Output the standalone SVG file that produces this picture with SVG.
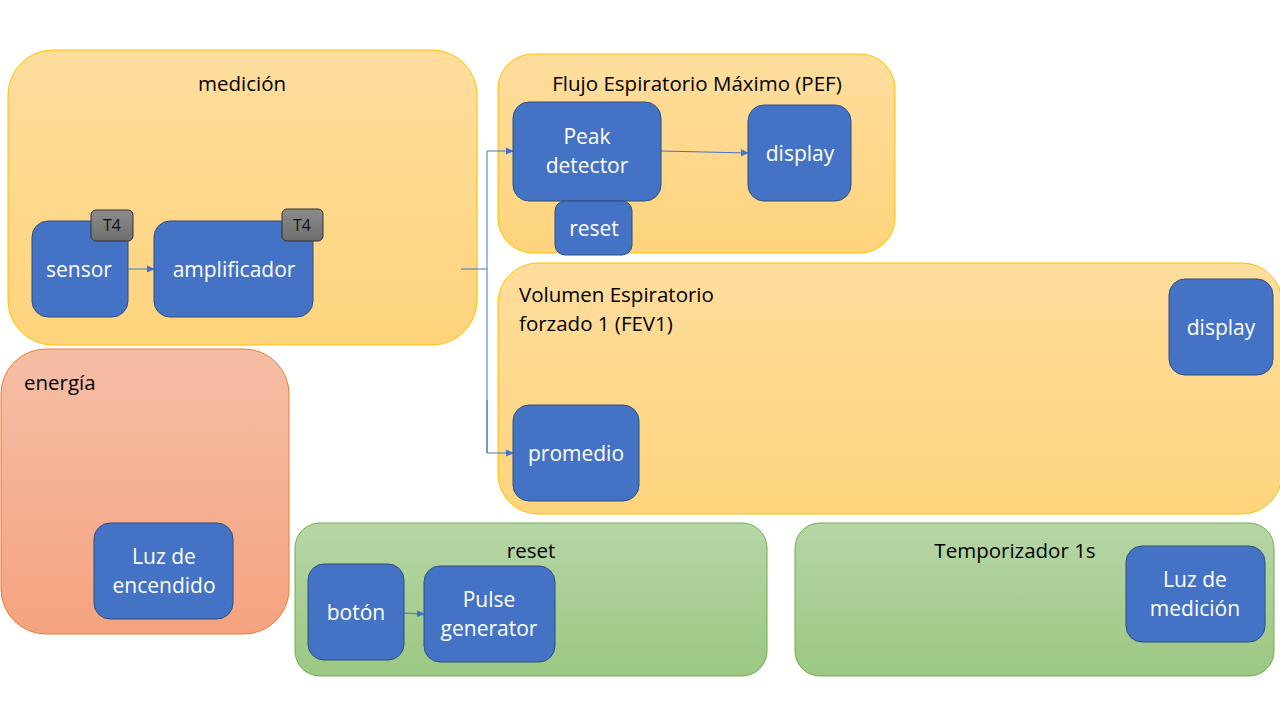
<svg xmlns="http://www.w3.org/2000/svg" width="1280" height="720" viewBox="0 0 1280 720">
<defs>
<linearGradient id="gOr" x1="0" y1="0" x2="0" y2="1"><stop offset="0" stop-color="#FEDD9D"/><stop offset="1" stop-color="#FED47C"/></linearGradient>
<linearGradient id="gRe" x1="0" y1="0" x2="0" y2="1"><stop offset="0" stop-color="#F6BEA6"/><stop offset="1" stop-color="#F5A37F"/></linearGradient>
<linearGradient id="gGr" x1="0" y1="0" x2="0" y2="1"><stop offset="0" stop-color="#B6D6A7"/><stop offset="1" stop-color="#9CC783"/></linearGradient>
<linearGradient id="gGy" x1="0" y1="0" x2="0" y2="1"><stop offset="0" stop-color="#8C8C8C"/><stop offset="1" stop-color="#6E6E6E"/></linearGradient>
<marker id="arr" markerWidth="8" markerHeight="8" refX="7" refY="4" orient="auto" markerUnits="userSpaceOnUse"><path d="M0,0.5 L8,4 L0,7.5 z" fill="#4472C4"/></marker>
<style>
.or{fill:url(#gOr);stroke:#FFC000;stroke-width:1}
.re{fill:url(#gRe);stroke:#ED7D31;stroke-width:1}
.gr{fill:url(#gGr);stroke:#70AD47;stroke-width:1}
.nd{fill:#4472C4;stroke:#2F4F7F;stroke-width:1}
.bd{fill:url(#gGy);stroke:#333;stroke-width:1}
.tt{font-family:"Open Sans","Liberation Sans",sans-serif;font-size:20.5px;fill:#000}
.nt{font-family:"Open Sans","Liberation Sans",sans-serif;font-size:21px;fill:#fff;text-anchor:middle}
.bt{font-family:"Open Sans","Liberation Sans",sans-serif;font-size:16px;fill:#111;text-anchor:middle}
.cn{stroke:#4472C4;stroke-width:1;fill:none}
</style>
</defs>
<rect width="1280" height="720" fill="#fff"/>

<g id="medicion"><rect class="or" x="8" y="50" width="469" height="295" rx="45"/><text class="tt" x="242" y="91" text-anchor="middle">medición</text></g>
<g id="pef"><rect class="or" x="498" y="54" width="397" height="199" rx="35"/><text class="tt" x="697" y="91" text-anchor="middle">Flujo Espiratorio Máximo (PEF)</text></g>
<g id="fev1"><rect class="or" x="498" y="263" width="784" height="251" rx="40"/><text class="tt" x="519" y="302">Volumen Espiratorio</text><text class="tt" x="519" y="331">forzado 1 (FEV1)</text></g>
<g id="energia"><rect class="re" x="1" y="349" width="288" height="285" rx="45"/><text class="tt" x="24" y="390">energía</text></g>
<g id="resetgrp"><rect class="gr" x="295" y="523" width="472" height="153" rx="25"/><text class="tt" x="531" y="558" text-anchor="middle">reset</text></g>
<g id="temporizador"><rect class="gr" x="795" y="523" width="479" height="153" rx="25"/><text class="tt" x="1015" y="558" text-anchor="middle">Temporizador 1s</text></g>

<g id="connectors">
<line class="cn" x1="128" y1="269" x2="154" y2="269" marker-end="url(#arr)"/>
<polyline class="cn" points="461,269 487,269"/>
<polyline class="cn" points="487,453 487,151 513,151" marker-end="url(#arr)"/>
<polyline class="cn" points="487,400 487,453 513,453" marker-end="url(#arr)"/>
<line class="cn" x1="661" y1="151" x2="748" y2="153" marker-end="url(#arr)"/>
<line class="cn" x1="404" y1="613" x2="424" y2="614" marker-end="url(#arr)"/>
</g>

<g id="sensor"><rect class="nd" x="32" y="221" width="96" height="96" rx="16"/><text class="nt" x="79" y="277">sensor</text></g>
<g id="t4a"><rect class="bd" x="91" y="210" width="42" height="31" rx="5"/><text class="bt" x="112" y="231">T4</text></g>
<g id="amplificador"><rect class="nd" x="154" y="221" width="159" height="96" rx="16"/><text class="nt" x="234" y="277">amplificador</text></g>
<g id="t4b"><rect class="bd" x="282" y="209" width="41" height="32" rx="5"/><text class="bt" x="302" y="231">T4</text></g>
<g id="peak"><rect class="nd" x="513" y="102" width="148" height="99" rx="16"/><text class="nt" x="587" y="144">Peak</text><text class="nt" x="587" y="173">detector</text></g>
<g id="display1"><rect class="nd" x="748" y="105" width="103" height="96" rx="16"/><text class="nt" x="800" y="161">display</text></g>
<g id="resetnode"><rect class="nd" x="555" y="201" width="77" height="54" rx="10"/><text class="nt" x="594" y="236">reset</text></g>
<g id="display2"><rect class="nd" x="1169" y="279" width="104" height="96" rx="16"/><text class="nt" x="1221" y="335">display</text></g>
<g id="promedio"><rect class="nd" x="513" y="405" width="126" height="96" rx="16"/><text class="nt" x="576" y="461">promedio</text></g>
<g id="luzenc"><rect class="nd" x="94" y="523" width="139" height="96" rx="16"/><text class="nt" x="164" y="564">Luz de</text><text class="nt" x="164" y="593">encendido</text></g>
<g id="boton"><rect class="nd" x="308" y="564" width="96" height="96" rx="16"/><text class="nt" x="356" y="620">botón</text></g>
<g id="pulse"><rect class="nd" x="424" y="566" width="131" height="96" rx="16"/><text class="nt" x="489" y="607">Pulse</text><text class="nt" x="489" y="636">generator</text></g>
<g id="luzmed"><rect class="nd" x="1126" y="546" width="139" height="96" rx="16"/><text class="nt" x="1195" y="587">Luz de</text><text class="nt" x="1195" y="616">medición</text></g>
</svg>
